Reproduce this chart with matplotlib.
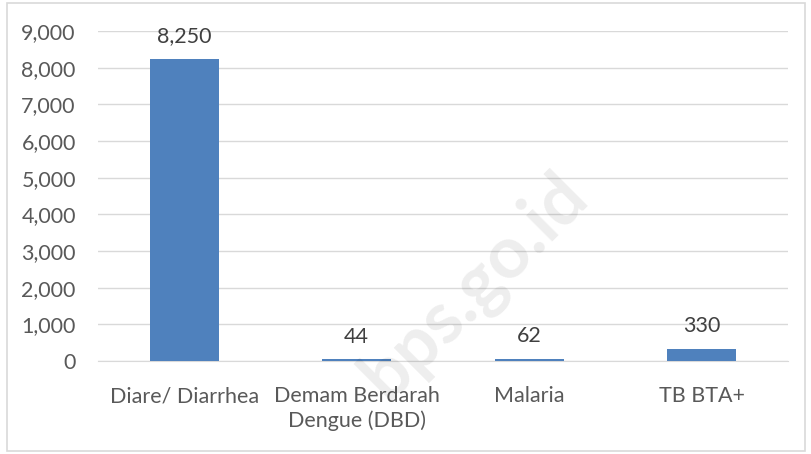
import matplotlib.pyplot as plt
from matplotlib.patches import Rectangle

categories = ["Diare/ Diarrhea", "Demam Berdarah\nDengue (DBD)", "Malaria", "TB BTA+"]
values = [8250, 44, 62, 330]
yticks = list(range(0, 9001, 1000))

plt.rcParams['font.family'] = ['Lato', 'DejaVu Sans']

fig = plt.figure(figsize=(8.12, 4.54), dpi=100)
ax = fig.add_axes([0.1207, 0.2048, 0.8497, 0.7269])

x = list(range(len(categories)))
ax.bar(x, values, width=0.4, color='#4F81BD', zorder=3)
for xi, v in zip(x, values):
    ax.annotate(f"{v:,}", (xi, v), xytext=(0, 9), textcoords='offset points',
                ha='center', va='bottom', fontsize=15.5, color='#404040')

ax.set_xlim(-0.5, 3.5)
ax.set_ylim(0, 9000)
ax.set_yticks(yticks)
ax.set_yticklabels([f"{t:,}" for t in yticks])
ax.set_xticks(x)
ax.set_xticklabels(categories, linespacing=1.25)
ax.tick_params(axis='both', length=0, labelsize=15.5, labelcolor='#595959')
ax.tick_params(axis='y', pad=16)
ax.tick_params(axis='x', pad=18)
ax.grid(axis='y', color='#d9d9d9', linewidth=1, zorder=0)
for s in ['top', 'right', 'left']:
    ax.spines[s].set_visible(False)
ax.spines['bottom'].set_color('#d9d9d9')

# faint watermark
fig.text(0.585, 0.37, "bps.go.id", fontsize=52, fontweight='bold', color='#000000',
         alpha=0.07, rotation=45, ha='center', va='center')

fig.patches.append(Rectangle((0.009, 0.007), 0.982, 0.986, transform=fig.transFigure,
                             fill=False, edgecolor='#d9d9d9', linewidth=1.2))

fig.savefig('out.png', dpi=100)
